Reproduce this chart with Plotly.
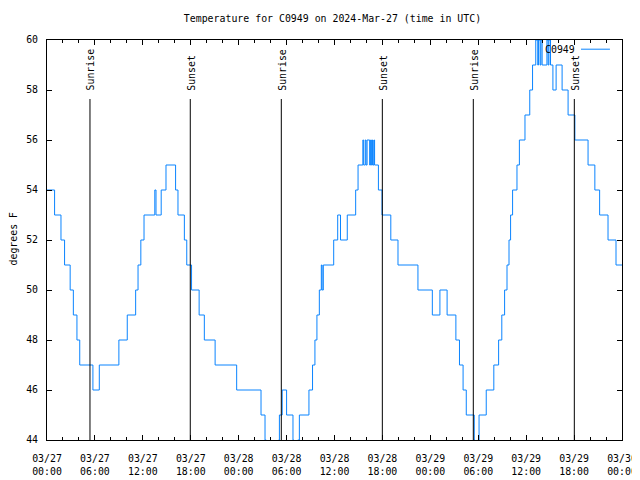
import pandas as pd
import plotly.graph_objects as go

# ---- data ----
start = "2024-03-27 00:00"
hours = [0.0, 0.95, 1.75, 2.2, 2.9, 3.3, 3.75, 4.1, 5.75, 6.55, 9.0, 10.05, 11.1, 11.4, 11.75, 12.15,
         13.5, 13.65, 14.3, 14.9, 16.1, 16.4, 17.2, 17.5, 18.1, 19.05, 19.7, 21.05, 23.75,
         26.8, 27.3, 27.45, 29.0, 29.1, 29.45, 30.0, 30.8, 30.9, 31.4, 31.6, 32.8, 33.25, 33.55,
         33.8, 34.1, 34.35, 34.45, 34.6, 35.9, 36.4, 36.75, 37.6, 38.65, 38.95,
         39.55, 39.65, 39.85, 39.95, 40.08, 40.4, 40.52, 40.62, 40.75, 40.83, 40.95, 41.02,
         41.5, 41.95, 43.05, 43.95, 46.45, 48.25, 49.2, 50.1, 51.2, 51.65, 52.1, 52.5,
         53.5, 53.6, 53.95, 54.1, 55.0, 55.95, 56.55, 56.95, 57.3, 57.6, 57.85, 58.05, 58.3,
         58.85, 59.15, 59.85, 60.45, 60.8, 61.2, 61.45, 61.55, 61.75, 61.85, 62.0, 62.6, 62.75,
         62.85, 63.05, 63.35, 63.75, 64.5, 65.25, 66.1, 67.75, 68.6, 69.2, 70.25, 71.25, 72.0]
temps = [54, 53, 52, 51, 50, 49, 48, 47, 46, 47, 48, 49, 50, 51, 52, 53,
         54, 53, 54, 55, 54, 53, 52, 51, 50, 49, 48, 47, 46,
         45, 44, 43, 44, 45, 46, 45, 44, 43, 44, 45, 46, 47, 48,
         49, 50, 51, 50, 51, 52, 53, 52, 53, 54, 55,
         56, 55, 56, 55, 56, 55, 56, 55, 56, 55, 56, 55,
         54, 53, 52, 51, 50, 49, 50, 49, 48, 47, 46, 45,
         44, 43, 44, 45, 46, 47, 48, 49, 50, 51, 52, 53, 54,
         55, 56, 57, 58, 59, 60, 59, 60, 59, 60, 59, 60, 59,
         60, 59, 58, 59, 58, 57, 56, 55, 54, 53, 52, 51, 51]

event_hours = [5.38, 17.94, 29.34, 41.99, 53.38, 66.03]
event_names = ["Sunrise", "Sunset", "Sunrise", "Sunset", "Sunrise", "Sunset"]

tick_hours = [0, 6, 12, 18, 24, 30, 36, 42, 48, 54, 60, 66, 72]
tick_dates = ["03/27", "03/27", "03/27", "03/27", "03/28", "03/28", "03/28",
              "03/28", "03/29", "03/29", "03/29", "03/29", "03/30"]
tick_times = ["00:00", "06:00", "12:00", "18:00", "00:00", "06:00", "12:00",
              "18:00", "00:00", "06:00", "12:00", "18:00", "00:00"]

series_name = "C0949"
title_text = "Temperature for C0949 on 2024-Mar-27 (time in UTC)"

# ---- build ----
t0 = pd.Timestamp(start)
def to_time(h):
    return t0 + pd.to_timedelta(h, unit="h")

x = [to_time(h) for h in hours]
FONT = "DejaVu Sans Mono"
FS = 9.9
BLUE = "#0a84ff"
OFF = 8  # page body margin offset

fig = go.Figure()
fig.add_trace(go.Scatter(x=x, y=temps, mode="lines", line=dict(color=BLUE, width=1, shape="hv"),
                         name=series_name, showlegend=False))

shapes = []
annotations = []
for h, name in zip(event_hours, event_names):
    tx = to_time(h)
    shapes.append(dict(type="line", xref="x", yref="y", x0=tx, x1=tx, y0=44, y1=57.64,
                       line=dict(color="black", width=1)))
    annotations.append(dict(x=tx, y=57.9, xref="x", yref="y", text=name, textangle=-90,
                            showarrow=False, xanchor="center", yanchor="bottom", xshift=1,
                            font=dict(family=FONT, size=FS, color="black")))

# legend (gnuplot style: text then sample)
annotations.append(dict(x=0.9225, y=0.977, xref="paper", yref="paper", text=series_name,
                        showarrow=False, xanchor="right", yanchor="middle",
                        font=dict(family=FONT, size=FS, color="black")))
shapes.append(dict(type="line", xref="paper", yref="paper", x0=0.9287, x1=0.979, y0=0.977, y1=0.977,
                   line=dict(color=BLUE, width=1)))
# y axis label
annotations.append(dict(x=-0.0600, y=0.5025, xref="paper", yref="paper", text="degrees F",
                        textangle=-90, showarrow=False, xanchor="center", yanchor="middle",
                        font=dict(family=FONT, size=FS, color="black")))

fig.update_layout(
    template="none",
    width=640, height=480,
    margin=dict(l=47 - OFF, r=640 - (47 - OFF) - 575, t=40 - OFF, b=480 - (40 - OFF) - 400,
                pad=0, autoexpand=False),
    paper_bgcolor="white", plot_bgcolor="white",
    font=dict(family=FONT, size=FS, color="black"),
    title=dict(text=title_text, x=0.4965, xref="paper", y=1 - (19 - OFF) / 480, yref="container",
               xanchor="center", yanchor="middle", font=dict(family=FONT, size=FS, color="black")),
    shapes=shapes, annotations=annotations,
    showlegend=False,
)
fig.update_xaxes(
    type="date", range=[to_time(0), to_time(72)], automargin=False,
    tickmode="array", tickvals=[to_time(h) for h in tick_hours],
    ticktext=[d + "<br>" + t for d, t in zip(tick_dates, tick_times)],
    ticks="inside", ticklen=5, tickcolor="black", tickwidth=1,
    showline=True, linecolor="black", linewidth=1, mirror="ticks",
    showgrid=False, zeroline=False, ticklabelstandoff=9,
    minor=dict(tickmode="linear", tick0=to_time(0), dtick=2 * 3600 * 1000, ticks="inside",
               ticklen=3, tickcolor="black", showgrid=False),
)
fig.update_yaxes(
    range=[44, 60], tickmode="linear", tick0=44, dtick=2, automargin=False,
    ticks="inside", ticklen=5, tickcolor="black", tickwidth=1,
    showline=True, linecolor="black", linewidth=1, mirror="ticks",
    showgrid=False, zeroline=False, ticklabelstandoff=6,
)

fig.write_html("out.html")
